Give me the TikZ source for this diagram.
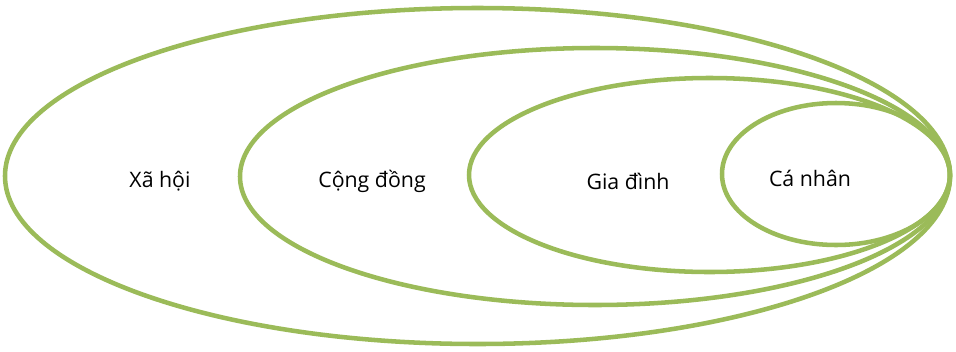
\documentclass[tikz,border=0pt]{standalone}
\usepackage{fontspec}
\setmainfont{Open Sans}
\usetikzlibrary{shapes.geometric}
\definecolor{ringgreen}{HTML}{9BBB59}
\begin{document}
\begin{tikzpicture}
		[x=0.75pt,y=-0.75pt,
		ring/.style={ellipse,draw=ringgreen,line width=3.4pt,inner sep=0pt},
		tag/.style={font=\fontsize{16}{18}\selectfont,text=black}]
		\useasboundingbox (0,0) rectangle (956,351);
		% rings, outer to inner
		\node[ring,minimum width=945*0.75pt,minimum height=336*0.75pt] (xahoi) at (477.5,176) {};
		\node[ring,minimum width=710*0.75pt,minimum height=257*0.75pt] (congdong) at (595,176.5) {};
		\node[ring,minimum width=481*0.75pt,minimum height=194*0.75pt] (giadinh) at (709.5,175) {};
		\node[ring,minimum width=228*0.75pt,minimum height=142*0.75pt] (canhan) at (836,174) {};
		% labels
		\node[tag] (lxahoi) at (160,181) {Xã hội};
		\node[tag] (lcongdong) at (372,181) {Cộng đồng};
		\node[tag] (lgiadinh) at (628,181) {Gia đình};
		\node[tag] (lcanhan) at (810,178) {Cá nhân};
	\end{tikzpicture}
\end{document}
